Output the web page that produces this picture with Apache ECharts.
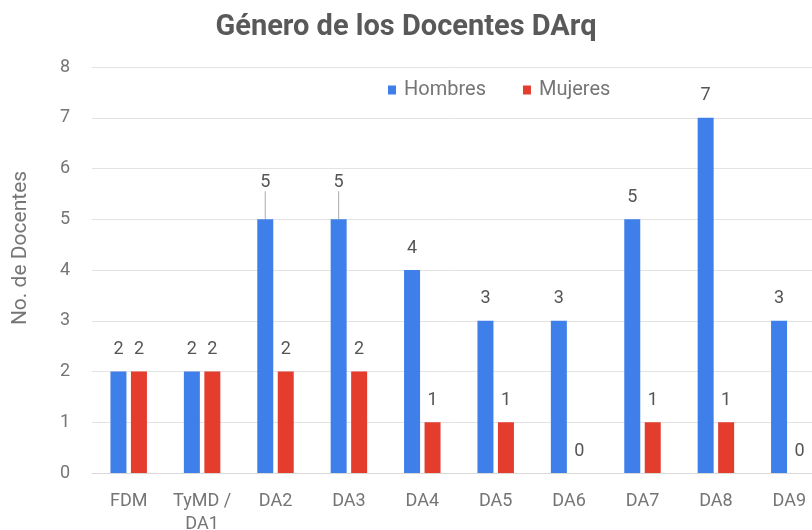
<!DOCTYPE html>
<html>
<head>
<meta charset="utf-8">
<script src="https://cdn.jsdelivr.net/npm/echarts@6/dist/echarts.min.js"></script>
<style>
  html, body { margin: 0; padding: 0; background: #fff; }
  #chart { width: 812px; height: 530px; }
</style>
</head>
<body>
<div id="chart"></div>
<script>
const categories = ['FDM', 'TyMD /\nDA1', 'DA2', 'DA3', 'DA4', 'DA5', 'DA6', 'DA7', 'DA8', 'DA9']
const hombres = [2, 2, 5, 5, 4, 3, 3, 5, 7, 3]
const mujeres = [2, 2, 2, 2, 1, 1, 0, 1, 1, 0]
const yTicks = [0, 1, 2, 3, 4, 5, 6, 7, 8]

const font = 'Roboto, Arial, sans-serif'
const grey = '#757575'

const chart = echarts.init(document.getElementById('chart'))

// the two labels under the legend are pushed up with a leader line, as in the reference
const liftedLabels = [2, 3]

chart.setOption({
  animation: false,
  title: {
    text: 'Género de los Docentes DArq',
    left: 'center', top: 8,
    textStyle: { color: '#595959', fontSize: 29, fontWeight: 'bold', fontFamily: font }
  },
  legend: {
    top: 75, left: 383,
    itemWidth: 8, itemHeight: 9, itemGap: 37,
    icon: 'rect',
    textStyle: { color: grey, fontSize: 20, fontFamily: font, padding: [0, 0, 0, 3] },
    data: ['Hombres', 'Mujeres']
  },
  grid: { left: 92, top: 67, width: 734, height: 406, outerBoundsMode: 'none', containLabel: false },
  xAxis: {
    type: 'category', data: categories,
    axisLine: { lineStyle: { color: '#d9d9d9' } },
    axisTick: { show: false },
    axisLabel: { interval: 0, color: grey, fontSize: 18, fontFamily: font, margin: 17, lineHeight: 23 }
  },
  yAxis: {
    type: 'value', min: yTicks[0], max: yTicks[yTicks.length - 1], interval: 1,
    name: 'No. de Docentes', nameLocation: 'middle', nameGap: 61,
    nameTextStyle: { color: grey, fontSize: 21, fontFamily: font, padding: [0, 0, 0, 44] },
    axisLabel: { color: grey, fontSize: 18, fontFamily: font, margin: 22 },
    splitLine: { lineStyle: { color: '#e3e3e3' } }
  },
  series: [
    {
      name: 'Hombres', type: 'bar',
      data: hombres.map((v, i) => liftedLabels.includes(i)
        ? { value: v, labelLine: { show: true, lineStyle: { color: '#aaa', width: 1 } } }
        : v),
      barWidth: 16, barGap: '28%',
      itemStyle: { color: '#3f7fe9' },
      label: { show: true, position: 'top', distance: 13, color: '#555', fontSize: 18, fontFamily: font },
      labelLayout: (p) => liftedLabels.includes(p.dataIndex) ? { dy: -15 } : {}
    },
    {
      name: 'Mujeres', type: 'bar', data: mujeres,
      barWidth: 16,
      itemStyle: { color: '#e53d2d' },
      label: { show: true, position: 'top', distance: 13, color: '#555', fontSize: 18, fontFamily: font }
    }
  ]
})
</script>
</body>
</html>
